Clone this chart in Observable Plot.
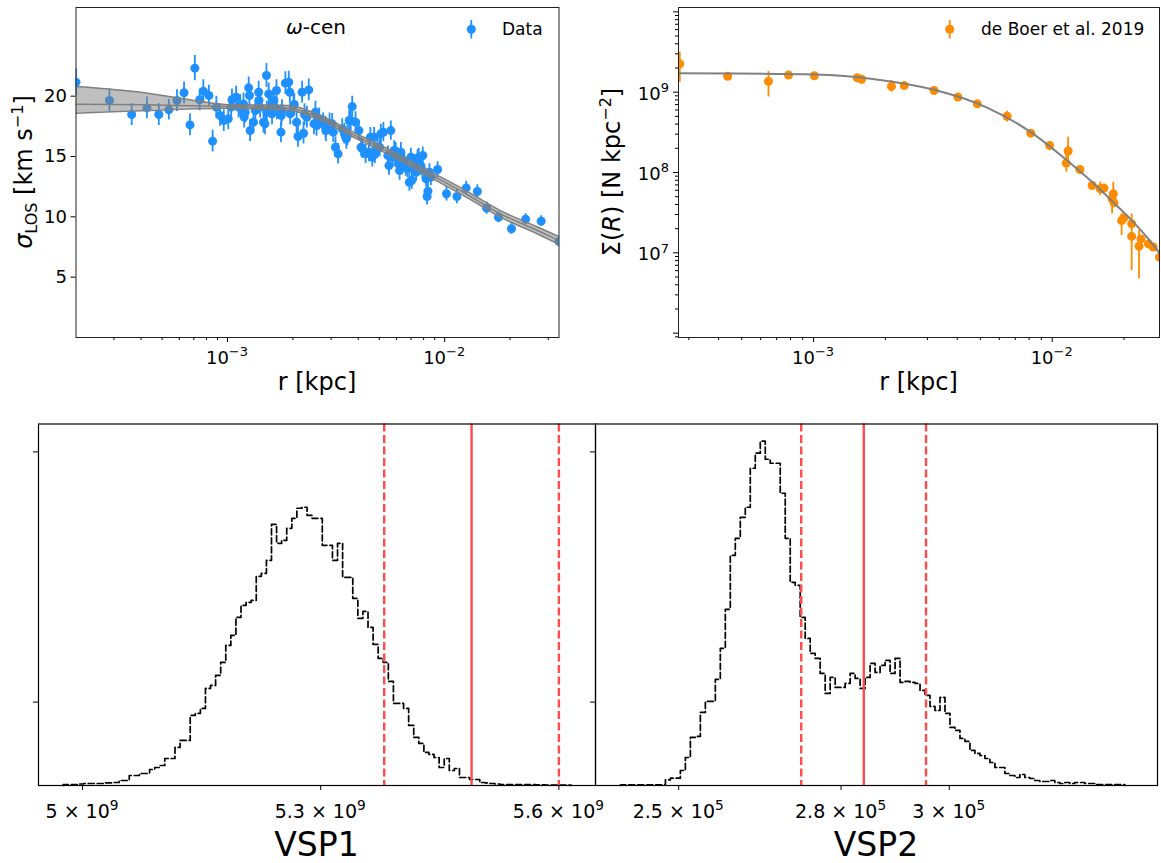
<!DOCTYPE html>
<html><head><meta charset="utf-8">
<script src="https://cdn.jsdelivr.net/npm/d3@7"></script>
<script src="https://cdn.jsdelivr.net/npm/@observablehq/plot@0.6"></script>
<style>
body{margin:0;background:#fff;}
#wrap{position:relative;width:1161px;height:863px;overflow:hidden;font-family:"DejaVu Sans";}
</style></head><body><div id="wrap"></div>
<script>
// ---------- top-left: omega-cen velocity dispersion ----------
const tlR = [0.2007e-3,0.2860e-3,0.3622e-3,0.4257e-3,0.4829e-3,0.5370e-3,0.5855e-3,0.6310e-3,0.6720e-3,0.7075e-3,
 0.7446e-3,0.7743e-3,0.8211e-3,0.8542e-3,0.8887e-3,0.9243e-3,0.9614e-3,1.008e-3,1.049e-3,1.096e-3,
 1.125e-3,1.185e-3,1.262e-3,1.271e-3,1.252e-3,1.317e-3,1.392e-3,1.512e-3,1.465e-3,1.548e-3,
 1.573e-3,1.681e-3,1.763e-3,1.848e-3,1.915e-3,1.937e-3,2.031e-3,2.081e-3,2.112e-3,2.206e-3,
 2.262e-3,2.240e-3,2.367e-3,2.542e-3,2.502e-3,2.645e-3,2.755e-3,2.827e-3,2.952e-3,3.034e-3,
 3.071e-3,3.143e-3,3.231e-3,3.374e-3,3.565e-3,3.753e-3,3.694e-3,3.888e-3,4.027e-3,4.175e-3,
 4.324e-3,4.480e-3,4.642e-3,4.734e-3,4.905e-3,5.083e-3,5.223e-3,5.477e-3,5.651e-3,5.541e-3,
 5.855e-3,6.066e-3,6.285e-3,6.200e-3,6.512e-3,6.746e-3,6.880e-3,6.989e-3,7.050e-3,7.242e-3,
 7.385e-3,7.503e-3,7.773e-3,7.929e-3,8.215e-3,8.300e-3,8.377e-3,8.510e-3,9.280e-3,10.198e-3,
 11.387e-3,12.568e-3,14.142e-3,15.606e-3,17.697e-3,20.312e-3,23.585e-3,27.823e-3,33.61e-3,
 1.143e-3,1.208e-3,1.344e-3,1.414e-3,1.518e-3,1.604e-3,1.688e-3,1.783e-3,1.945e-3,2.015e-3,
 1.488e-3,2.320e-3,2.572e-3,2.838e-3,3.455e-3,3.524e-3,3.635e-3,4.124e-3,4.551e-3,4.771e-3,
 5.022e-3,5.763e-3,5.949e-3,6.114e-3,6.486e-3,6.615e-3,7.150e-3,7.592e-3,7.897e-3,8.643e-3,
 1.397e-3,1.636e-3,1.194e-3,1.040e-3,1.770e-3];
const tlSigma = [21.16,19.64,18.48,19.03,18.48,18.87,19.64,20.28,17.62,22.32,
 19.70,20.41,20.06,16.27,19.09,18.40,17.98,18.12,19.70,19.92,
 19.09,19.36,20.06,17.15,20.69,17.85,20.33,21.71,17.85,20.19,
 19.09,20.47,17.02,21.08,21.16,20.33,19.31,17.85,16.66,20.33,
 18.48,16.93,20.52,18.67,17.71,18.12,17.71,17.43,17.71,17.71,
 17.02,15.77,15.22,17.29,16.74,19.14,17.98,17.85,17.15,15.64,
 15.22,15.36,14.94,16.60,15.64,16.88,17.02,15.08,17.15,14.25,
 15.50,14.94,15.36,13.84,14.53,13.98,12.87,14.94,13.01,14.39,
 13.70,14.81,14.25,15.08,13.15,11.69,12.13,13.70,13.92,11.91,
 11.69,12.40,12.10,10.72,9.97,9.01,9.81,9.64,7.96,
 19.23,18.67,18.81,19.09,18.67,18.54,18.95,18.81,18.54,19.23,
 17.71,18.26,17.57,17.15,16.88,16.46,17.98,15.77,16.60,15.22,
 15.77,14.94,15.36,14.39,14.67,14.12,13.98,14.94,13.84,13.29,
 19.64,19.64,18.26,19.09,18.40];
const tlErr = [1.1,0.95,0.9,0.9,0.9,0.85,0.9,0.9,0.9,1.05,
 0.9,0.95,0.85,0.9,0.9,0.9,0.9,0.9,0.9,0.9,
 0.9,0.9,0.9,0.9,0.9,0.9,0.9,1.0,0.9,0.9,
 0.9,0.9,0.85,0.95,0.9,0.9,0.9,0.9,0.9,0.9,
 0.9,0.9,0.9,0.9,0.9,0.9,0.9,0.9,0.9,0.85,
 0.85,0.85,0.85,0.85,0.85,0.85,0.85,0.85,0.85,0.8,
 0.8,0.8,0.8,0.8,0.8,0.8,0.8,0.8,0.8,0.8,
 0.8,0.8,0.8,0.8,0.75,0.75,0.75,0.75,0.75,0.75,
 0.75,0.75,0.7,0.7,0.7,0.7,0.7,0.7,0.65,0.6,
 0.6,0.55,0.55,0.5,0.45,0.45,0.45,0.45,0.5,
 0.9,0.9,0.9,0.9,0.9,0.9,0.9,0.9,0.9,0.9,
 0.9,0.9,0.9,0.9,0.85,0.85,0.85,0.8,0.8,0.8,
 0.8,0.8,0.8,0.8,0.75,0.75,0.75,0.75,0.7,0.7,
 0.9,0.9,0.9,0.9,0.9];
const bandR   = [0.2007e-3,0.4289e-3,0.7e-3,1.0e-3,1.914e-3,2.522e-3,3.736e-3,5.541e-3,8.215e-3,12.18e-3,18.05e-3,26.76e-3,33.61e-3];
const bandMid = [19.34,19.28,19.20,19.14,19.03,18.40,16.88,15.36,13.70,12.04,10.25,8.87,8.04];
const bandLo  = [18.59,18.81,18.95,19.00,18.83,18.20,16.68,15.14,13.46,11.78,9.98,8.58,7.72];
const bandHi  = [20.80,20.25,19.65,19.30,19.23,18.60,17.08,15.58,13.94,12.30,10.52,9.16,8.36];

// ---------- top-right: surface density ----------
const trR = [0.2750e-3,0.4365e-3,0.6471e-3,0.7852e-3,1.007e-3,1.525e-3,1.589e-3,2.120e-3,2.399e-3,3.199e-3,
 4.027e-3,4.853e-3,6.471e-3,8.130e-3,9.750e-3,11.45e-3,11.66e-3,13.06e-3,14.70e-3,15.90e-3,
 16.48e-3,17.82e-3,18.03e-3,18.16e-3,19.54e-3,19.95e-3,21.53e-3,21.53e-3,23.12e-3,23.55e-3,
 25.32e-3,26.50e-3,28.16e-3];
const trSigma = [2.25e9,1.58e9,1.36e9,1.63e9,1.60e9,1.51e9,1.45e9,1.18e9,1.21e9,1.05e9,
 8.68e8,7.16e8,5.02e8,3.09e8,2.17e8,1.31e8,1.85e8,1.09e8,6.89e7,6.26e7,
 6.39e7,4.70e7,5.42e7,4.19e7,2.52e7,2.73e7,2.30e7,1.60e7,1.21e7,1.49e7,
 1.29e7,1.18e7,8.84e6];
const trLo = [1.33e9,1.48e9,0.87e9,1.53e9,1.50e9,1.42e9,1.36e9,1.00e9,1.13e9,0.98e9,
 8.1e8,6.7e8,4.24e8,2.88e8,2.02e8,1.01e8,1.22e8,1.01e8,6.3e7,5.17e7,
 5.9e7,3.05e7,3.70e7,3.8e7,1.64e7,2.5e7,2.1e7,6.03e6,4.74e6,1.36e7,
 1.18e7,1.08e7,8.1e6];
const trHi = [3.15e9,1.68e9,1.81e9,1.74e9,1.70e9,1.60e9,1.54e9,1.40e9,1.29e9,1.12e9,
 9.3e8,7.65e8,5.80e8,3.30e8,2.32e8,1.63e8,2.75e8,1.17e8,7.5e7,7.59e7,
 6.9e7,5.97e7,7.59e7,4.6e7,3.05e7,2.95e7,2.5e7,3.05e7,1.90e7,1.62e7,
 1.40e7,1.28e7,9.6e6];
const trModelR = [2.716e-4,4.40e-4,1.0e-3,1.835e-3,3.20e-3,5.36e-3,8.13e-3,1.145e-2,1.47e-2,1.80e-2,2.16e-2,2.53e-2,2.816e-2];
const trModelS = [1.72e9,1.71e9,1.66e9,1.44e9,1.07e9,6.38e8,3.18e8,1.44e8,7.59e7,4.28e7,2.52e7,1.49e7,9.9e6];

// ---------- bottom: posterior histograms ----------
const vsp1Start = 4.97571e9, vsp1Width = 6.398e6;
const vsp1Counts = [12,12,12,18,24,24,24,24,32,32,
 36,60,60,120,120,144,144,192,216,240,
 324,324,456,540,540,840,864,924,1164,1200,
 1320,1476,1680,1800,2016,2160,2196,2220,2508,2544,
 2700,3132,2904,2940,3084,3204,3324,3336,3240,3204,
 3204,2880,2880,2700,2904,2496,2496,2244,2004,2088,
 1896,1692,1524,1476,1248,984,984,924,720,576,
 504,396,372,336,216,324,180,204,96,96,
 72,72,36,32,24,18,12,12,12,12,
 12,10,10,7,7,6,6,5,4,4];
const vsp1Lines = {lo: 5.380e9, med: 5.490e9, hi: 5.600e9};
const vsp2Start = 239243, vsp2Width = 922.5;
const vsp2Counts = [8,8,8,8,8,8,8,8,8,68,
 88,88,180,336,576,588,876,1008,1008,1272,
 1644,2112,2760,2964,3216,3336,3804,3984,4128,3912,
 3864,3864,3504,2964,2436,2400,2016,1764,1584,1524,
 1344,1104,1296,1176,1176,1224,1344,1284,1164,1296,
 1464,1356,1440,1500,1344,1524,1236,1248,1236,1224,
 1140,1080,948,900,1056,864,696,660,564,528,
 420,384,360,324,276,216,216,144,120,96,
 132,96,84,60,48,48,60,36,24,36,
 24,36,36,24,24,12,12,12,12,12,12];
const vsp2Lines = {lo: 2.7264e5, med: 2.842e5, hi: 2.957e5};
const histYTicks = [1000, 4000];

// tick labels: [value, base text, superscript]
const vsp1TickLabels = [[5e9,"5 × 10","9"],[5.3e9,"5.3 × 10","9"],[5.6e9,"5.6 × 10","9"]];
const vsp2TickLabels = [[2.5e5,"2.5 × 10","5"],[2.8e5,"2.8 × 10","5"],[3e5,"3 × 10","5"]];
const topXTickLabels = [[1e-3,"10","−3"],[1e-2,"10","−2"]];
const trYTickLabels = [[1e7,"10","7"],[1e8,"10","8"],[1e9,"10","9"]];

const BLUE = "#1e90ff", ORANGE = "#ff8c00", RED = "#ff4b4b", GRAY = "#808080";
const FONT = "DejaVu Sans";

// ---------- helpers ----------
const wrap = document.getElementById("wrap");
function place(el, left, top){ el.style.position="absolute"; el.style.left=left+"px"; el.style.top=top+"px"; wrap.appendChild(el); }
function minorTicks(decades, mults, domain){
  const out=[]; for(const d of decades) for(const m of mults){ const v=m*Math.pow(10,d); if(v>=domain[0]&&v<=domain[1]) out.push(v);} return out;
}
function scaleFn(plot, name){
  const s = plot.scale(name);
  if (s && typeof s.apply === "function") return v => s.apply(v);
  const d = (s.type === "log" ? d3.scaleLog() : d3.scaleLinear()).domain(s.domain).range(s.range);
  return v => d(v);
}
const overlay = [];
function supLabel(x, y, base, sup, size, anchor){
  overlay.push(`<text x="${x.toFixed(1)}" y="${y.toFixed(1)}" font-size="${size}" text-anchor="${anchor}">${base}<tspan font-size="${(size*0.72).toFixed(1)}" dy="${(-size*0.42).toFixed(1)}">${sup}</tspan></text>`);
}

const tlData = tlR.map((r,i)=>({r, s: tlSigma[i], lo: tlSigma[i]-tlErr[i], hi: tlSigma[i]+tlErr[i]}));
const band = bandR.map((r,i)=>({r, mid: bandMid[i], lo: bandLo[i], hi: bandHi[i]}));
const tlDomX = [2.007e-4, 3.361e-2];
const baseStyle = {background:"transparent", fontFamily:FONT, color:"black", overflow:"visible"};
const noLab = () => "";

const tl = Plot.plot({
  width:580, height:400, marginLeft:75.5, marginRight:21.5, marginTop:7, marginBottom:63,
  style:{...baseStyle, fontSize:"18px"},
  x:{type:"log", domain:tlDomX, label:null},
  y:{domain:[0,27.35], label:null},
  marks:[
    Plot.ruleX(tlData, {x:"r", y1:"lo", y2:"hi", stroke:BLUE, strokeWidth:1.8, clip:true}),
    Plot.dot(tlData, {x:"r", y:"s", r:4.5, fill:BLUE, clip:true}),
    Plot.areaY(band, {x:"r", y1:"lo", y2:"hi", fill:GRAY, fillOpacity:0.5, curve:"monotone-x", clip:true}),
    Plot.line(band, {x:"r", y:"lo", stroke:GRAY, strokeWidth:1.5, curve:"monotone-x", clip:true}),
    Plot.line(band, {x:"r", y:"hi", stroke:GRAY, strokeWidth:1.5, curve:"monotone-x", clip:true}),
    Plot.line(band, {x:"r", y:"mid", stroke:GRAY, strokeWidth:1.5, curve:"monotone-x", clip:true}),
    Plot.axisX({ticks:topXTickLabels.map(d=>d[0]), tickFormat:noLab, tickSize:5, label:null}),
    Plot.axisX({ticks:minorTicks([-4,-3,-2],[2,3,4,5,6,7,8,9],tlDomX), tickFormat:noLab, tickSize:3, label:null}),
    Plot.axisY({ticks:[5,10,15,20], tickSize:5, tickPadding:4, fontSize:18, label:null}),
    Plot.frame({stroke:"#222", strokeWidth:1})
  ]
});
place(tl, 0, 0);
{ const fx = scaleFn(tl,"x"); topXTickLabels.forEach(([v,b,s])=>supLabel(fx(v), 364, b, s, 18, "middle")); }

const trData = trR.map((r,i)=>({r, s: trSigma[i], lo: trLo[i], hi: trHi[i]}));
const trModel = trModelR.map((r,i)=>({r, s: trModelS[i]}));
const trDomX = [2.716e-4, 2.816e-2], trDomY = [8.83e5, 1.132e10];
const tr = Plot.plot({
  width:581, height:400, marginLeft:98, marginRight:2, marginTop:7, marginBottom:63,
  style:{...baseStyle, fontSize:"18px"},
  x:{type:"log", domain:trDomX, label:null},
  y:{type:"log", domain:trDomY, label:null},
  marks:[
    Plot.ruleX(trData, {x:"r", y1:"lo", y2:"hi", stroke:ORANGE, strokeWidth:1.8, clip:true}),
    Plot.dot(trData, {x:"r", y:"s", r:4.5, fill:ORANGE, clip:true}),
    Plot.line(trModel, {x:"r", y:"s", stroke:GRAY, strokeWidth:2, curve:"monotone-x", clip:true}),
    Plot.axisX({ticks:topXTickLabels.map(d=>d[0]), tickFormat:noLab, tickSize:5, label:null}),
    Plot.axisX({ticks:minorTicks([-4,-3,-2],[2,3,4,5,6,7,8,9],trDomX), tickFormat:noLab, tickSize:3, label:null}),
    Plot.axisY({ticks:trYTickLabels.map(d=>d[0]), tickFormat:noLab, tickSize:5, label:null}),
    Plot.axisY({ticks:[1e6,1e10].filter(v=>v>=trDomY[0]&&v<=trDomY[1]), tickFormat:noLab, tickSize:5, label:null}),
    Plot.axisY({ticks:minorTicks([5,6,7,8,9],[2,3,4,5,6,7,8,9],trDomY), tickFormat:noLab, tickSize:3, label:null}),
    Plot.frame({stroke:"#222", strokeWidth:1})
  ]
});
place(tr, 580, 0);
{ const fx = scaleFn(tr,"x"), fy = scaleFn(tr,"y");
  topXTickLabels.forEach(([v,b,s])=>supLabel(580+fx(v), 364, b, s, 18, "middle"));
  trYTickLabels.forEach(([v,b,s])=>supLabel(580+98-9, fy(v)+8, b, s, 18, "end")); }

function stepData(start, width, counts){
  const pts=[{x:start, y:0}];
  counts.forEach((c,i)=>pts.push({x:start+i*width, y:c}));
  const end = start+counts.length*width;
  pts.push({x:end, y:counts[counts.length-1]});
  pts.push({x:end, y:0});
  return pts;
}
const yMax = 1.05*Math.max(d3.max(vsp1Counts), d3.max(vsp2Counts));
function histPlot(o){
  return Plot.plot({
    width:o.width, height:463, marginLeft:o.ml, marginRight:o.mr, marginTop:23.5, marginBottom:78,
    style:{...baseStyle, fontSize:"19px"},
    x:{domain:o.domain, label:null},
    y:{domain:[0,yMax], label:null},
    marks:[
      Plot.line(stepData(o.start,o.w,o.counts), {x:"x", y:"y", curve:"step-after", stroke:"black", strokeWidth:1.7, strokeDasharray:"6,3"}),
      Plot.ruleX([o.lines.lo, o.lines.hi], {stroke:RED, strokeWidth:2.4, strokeDasharray:"8,3.5"}),
      Plot.ruleX([o.lines.med], {stroke:RED, strokeWidth:2.4}),
      Plot.axisX({ticks:o.labels.map(d=>d[0]), tickFormat:noLab, tickSize:5, label:null}),
      Plot.axisY({ticks:histYTicks, tickFormat:noLab, tickSize:5, label:null}),
      Plot.frame({stroke:"black", strokeWidth:1.2})
    ]
  });
}
const bl = histPlot({width:600, ml:38, mr:5, domain:[4.94458e9,5.6461e9], start:vsp1Start, w:vsp1Width, counts:vsp1Counts, lines:vsp1Lines, labels:vsp1TickLabels});
place(bl, 0, 400);
{ const fx = scaleFn(bl,"x"); vsp1TickLabels.forEach(([v,b,s])=>supLabel(fx(v), 818, b, s, 19, "middle")); }
const br = histPlot({width:581, ml:15, mr:4, domain:[2.3463e5,3.3847e5], start:vsp2Start, w:vsp2Width, counts:vsp2Counts, lines:vsp2Lines, labels:vsp2TickLabels});
place(br, 580, 400);
{ const fx = scaleFn(br,"x"); vsp2TickLabels.forEach(([v,b,s])=>supLabel(580+fx(v), 818, b, s, 19, "middle")); }

// ---------- labels and legends ----------
const NS="http://www.w3.org/2000/svg";
const ov = document.createElementNS(NS,"svg");
ov.setAttribute("width",1161); ov.setAttribute("height",863);
ov.style.position="absolute"; ov.style.left="0"; ov.style.top="0"; ov.style.pointerEvents="none";
ov.setAttribute("font-family", FONT);
ov.innerHTML = overlay.join("\n") + `
<text x="316" y="34" font-size="20" text-anchor="middle"><tspan font-style="italic">ω</tspan>-cen</text>
<line x1="471.3" x2="471.3" y1="20" y2="38.5" stroke="${BLUE}" stroke-width="1.8"/>
<circle cx="471.3" cy="29.3" r="4.5" fill="${BLUE}"/>
<text x="502" y="35.3" font-size="17">Data</text>
<line x1="949.7" x2="949.7" y1="20" y2="38.5" stroke="${ORANGE}" stroke-width="1.8"/>
<circle cx="949.7" cy="29.3" r="4.5" fill="${ORANGE}"/>
<text x="981" y="35.3" font-size="17">de Boer et al. 2019</text>
<text x="317" y="390" font-size="24" text-anchor="middle">r [kpc]</text>
<text x="918.5" y="390" font-size="24" text-anchor="middle">r [kpc]</text>
<text transform="translate(32,172) rotate(-90)" font-size="24" text-anchor="middle"><tspan font-style="italic">σ</tspan><tspan font-size="16" dy="5">LOS</tspan><tspan dy="-5"> [km s</tspan><tspan font-size="16" dy="-9">−1</tspan><tspan dy="9">]</tspan></text>
<text transform="translate(619.5,172) rotate(-90)" font-size="24" text-anchor="middle">Σ(<tspan font-style="italic">R</tspan>) [N kpc<tspan font-size="16" dy="-9">−2</tspan><tspan dy="9">]</tspan></text>
<text x="316.5" y="856" font-size="33" text-anchor="middle">VSP1</text>
<text x="876" y="856" font-size="33" text-anchor="middle">VSP2</text>
`;
wrap.appendChild(ov);
</script></body></html>
